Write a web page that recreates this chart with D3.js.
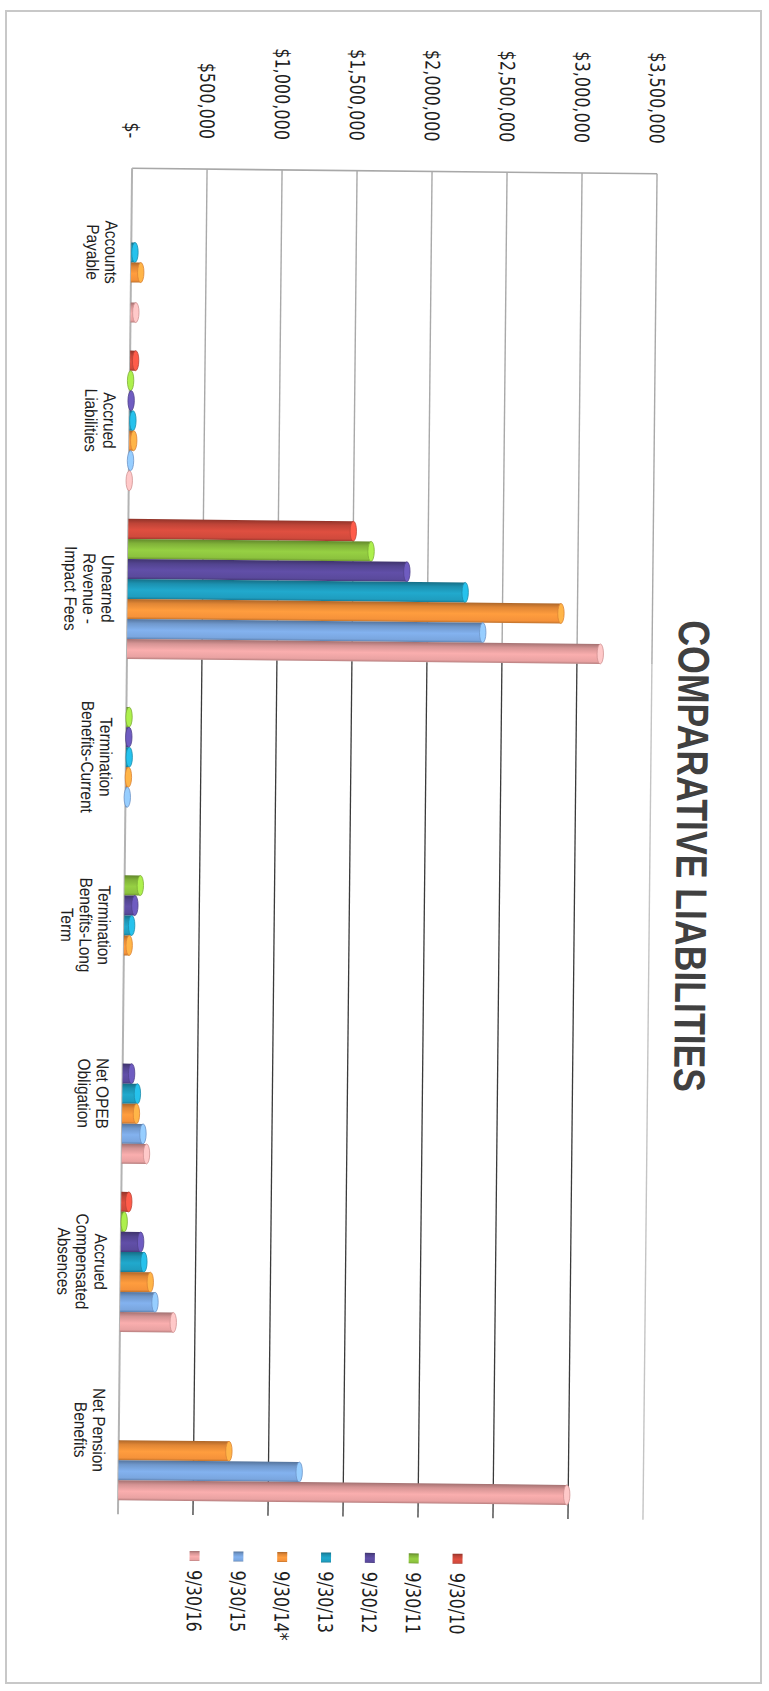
<!DOCTYPE html>
<html>
<head>
<meta charset="utf-8">
<script src="https://cdn.jsdelivr.net/npm/d3@7"></script>
<style>
  html, body { margin: 0; padding: 0; background: #fff; }
  svg { display: block; }
</style>
</head>
<body>
<svg id="chart" width="769" height="1691"></svg>
<script>
// ---- data -------------------------------------------------------------
const categories = [
  ["Accounts", "Payable"],
  ["Accrued", "Liabilities"],
  ["Unearned", "Revenue -", "Impact Fees"],
  ["Termination", "Benefits-Current"],
  ["Termination", "Benefits-Long", "Term"],
  ["Net OPEB", "Obligation"],
  ["Accrued", "Compensated", "Absences"],
  ["Net Pension", "Benefits"]
];
const seriesNames = ["9/30/10", "9/30/11", "9/30/12", "9/30/13", "9/30/14*", "9/30/15", "9/30/16"];
const seriesColors = ["#d04a3c", "#8cc23e", "#5a4a9c", "#1f9dbf", "#f5923a", "#7aa6df", "#e9a2a2"];

// one array per fiscal year, in category order
const fy10 = [0,     37000, 1500000, 0,     0,      0,      50000,  0];
const fy11 = [0,     5000,  1620000, 18000, 105000, 0,      21000,  0];
const fy12 = [0,     10000, 1860000, 18000, 70000,  60000,  132000, 0];
const fy13 = [25000, 23000, 2250000, 22000, 50000,  100000, 155000, 0];
const fy14 = [65000, 30000, 2890000, 18000, 35000,  95000,  199000, 735000];
const fy15 = [0,     10000, 2370000, 12000, 0,      140000, 232000, 1205000];
const fy16 = [35000, 3000,  3155000, 0,     0,      165000, 355000, 2990000];
const seriesValues = [fy10, fy11, fy12, fy13, fy14, fy15, fy16];

const tickValues = [0, 500000, 1000000, 1500000, 2000000, 2500000, 3000000, 3500000];
const tickLabels = ["$-", "$500,000", "$1,000,000", "$1,500,000", "$2,000,000", "$2,500,000", "$3,000,000", "$3,500,000"];
const chartTitle = "COMPARATIVE LIABILITIES";

// ---- layout -----------------------------------------------------------
const W = 769, H = 1691;
const svg = d3.select("#chart");
const defs = svg.append("defs");

// sheet frame
svg.append("rect")
  .attr("x", 6).attr("y", 11).attr("width", 755).attr("height", 1672)
  .attr("fill", "none").attr("stroke", "#c8c8c8").attr("stroke-width", 2);

// the chart sits slightly askew on the sheet
const sheet = svg.append("g").attr("transform", "rotate(0.6,384,845)");

// chart is laid out as a column chart, then turned a quarter clockwise
const g = sheet.append("g").attr("transform", `translate(${W},0) rotate(90)`);

const plotLeft = 171, plotRight = 1517;
const x = d3.scaleBand()
  .domain(d3.range(categories.length))
  .range([plotLeft, plotRight])
  .paddingInner(0.167)
  .paddingOuter(0.0835);
const xs = d3.scaleBand().domain(seriesNames).range([0, x.bandwidth()]);
const y = d3.scaleLinear().domain([0, 3500000]).range([644, 119]);

// ---- gradients for the cylinders ---------------------------------------
seriesColors.forEach((c, i) => {
  const base = d3.color(c);
  const grad = defs.append("linearGradient")
    .attr("id", "cyl" + i).attr("x1", 0).attr("y1", 0).attr("x2", 1).attr("y2", 0);
  grad.append("stop").attr("offset", "0%").attr("stop-color", base.darker(1.0));
  grad.append("stop").attr("offset", "22%").attr("stop-color", base.darker(0.25));
  grad.append("stop").attr("offset", "55%").attr("stop-color", base.brighter(0.2));
  grad.append("stop").attr("offset", "88%").attr("stop-color", base);
  grad.append("stop").attr("offset", "100%").attr("stop-color", base.darker(0.7));
});

// ---- back wall and gridlines ------------------------------------------
const splitU = x(2) + x.bandwidth();
const grid = g.append("g");
grid.selectAll("line.upper").data(tickValues.slice(1)).join("line")
  .attr("class", "upper")
  .attr("x1", plotLeft).attr("x2", splitU)
  .attr("y1", d => y(d)).attr("y2", d => y(d))
  .attr("stroke", "#a9a9a9").attr("stroke-width", 1.4);
grid.selectAll("line.lower").data(tickValues.slice(1, -1)).join("line")
  .attr("class", "lower")
  .attr("x1", splitU).attr("x2", plotRight)
  .attr("y1", d => y(d)).attr("y2", d => y(d))
  .attr("stroke", "#3a3a3a").attr("stroke-width", 1.3);
grid.append("line")
  .attr("x1", splitU).attr("x2", plotRight)
  .attr("y1", y(3500000)).attr("y2", y(3500000))
  .attr("stroke", "#c4c4c4").attr("stroke-width", 1.4);
// wall edge and floor edge
grid.append("line")
  .attr("x1", plotLeft).attr("x2", plotLeft)
  .attr("y1", y(0)).attr("y2", y(3500000))
  .attr("stroke", "#a8a8a8").attr("stroke-width", 1.6);
grid.append("line")
  .attr("x1", plotLeft).attr("x2", plotRight)
  .attr("y1", y(0)).attr("y2", y(0))
  .attr("stroke", "#b3b3b3").attr("stroke-width", 2);

// ---- value axis labels --------------------------------------------------
const yAxis = g.append("g")
  .attr("transform", `translate(${plotLeft},0)`)
  .call(d3.axisLeft(y).tickValues(tickValues).tickFormat((d, i) => tickLabels[i]).tickSize(0).tickPadding(30));
yAxis.select(".domain").remove();
yAxis.selectAll("text")
  .attr("x", null).attr("dy", null)
  .attr("dominant-baseline", "central")
  .attr("transform", "translate(-30,0) scale(0.8,1)")
  .attr("font-family", "'DejaVu Sans', sans-serif")
  .attr("font-size", 20)
  .attr("fill", "#1e1e1e");

// ---- cylinders ---------------------------------------------------------
const bars = g.append("g");
seriesValues.forEach((vals, si) => {
  const name = seriesNames[si];
  const w = xs.bandwidth();
  const sg = bars.append("g");
  const data = vals.map((v, ci) => ({ v, ci })).filter(d => d.v > 0);
  sg.selectAll("rect").data(data).join("rect")
    .attr("x", d => x(d.ci) + xs(name))
    .attr("width", w)
    .attr("y", d => y(d.v))
    .attr("height", d => y(0) - y(d.v))
    .attr("fill", `url(#cyl${si})`);
  sg.selectAll("ellipse").data(data).join("ellipse")
    .attr("cx", d => x(d.ci) + xs(name) + w / 2)
    .attr("cy", d => y(d.v))
    .attr("rx", w / 2)
    .attr("ry", 3.2)
    .attr("fill", d3.color(seriesColors[si]).brighter(0.6))
    .attr("stroke", d3.color(seriesColors[si]).darker(0.3))
    .attr("stroke-width", 0.8);
});

// ---- category labels ---------------------------------------------------
const catG = g.append("g")
  .attr("font-family", "'Liberation Sans', Arial, sans-serif")
  .attr("font-size", 17.5)
  .attr("fill", "#1e1e1e");
categories.forEach((lines, ci) => {
  lines.forEach((line, li) => {
    catG.append("text")
      .attr("transform", `translate(${x(ci) + x.bandwidth() / 2},${670 + li * 18.5}) scale(0.88,1)`)
      .attr("text-anchor", "middle")
      .text(line);
  });
});

// ---- title ---------------------------------------------------------------
g.append("text")
  .attr("transform", "translate(853,77) scale(0.81,1)")
  .attr("text-anchor", "middle")
  .attr("dominant-baseline", "central")
  .attr("font-family", "'Liberation Sans', Arial, sans-serif")
  .attr("font-weight", "bold")
  .attr("font-size", 44)
  .attr("fill", "#404040")
  .text(chartTitle);

// ---- legend --------------------------------------------------------------
const legend = g.append("g");
const legendV = d3.scalePoint().domain(seriesNames).range([304, 567]);
seriesNames.forEach((name, i) => {
  const item = legend.append("g").attr("transform", `translate(1558,${legendV(name)})`);
  item.append("rect")
    .attr("x", -5).attr("y", -5).attr("width", 10).attr("height", 10)
    .attr("fill", `url(#cyl${i})`);
  item.append("text")
    .attr("transform", "translate(14,0) scale(0.8,1)")
    .attr("dominant-baseline", "central")
    .attr("font-family", "'DejaVu Sans', sans-serif")
    .attr("font-size", 20)
    .attr("fill", "#1e1e1e")
    .text(name);
});
</script>
</body>
</html>
